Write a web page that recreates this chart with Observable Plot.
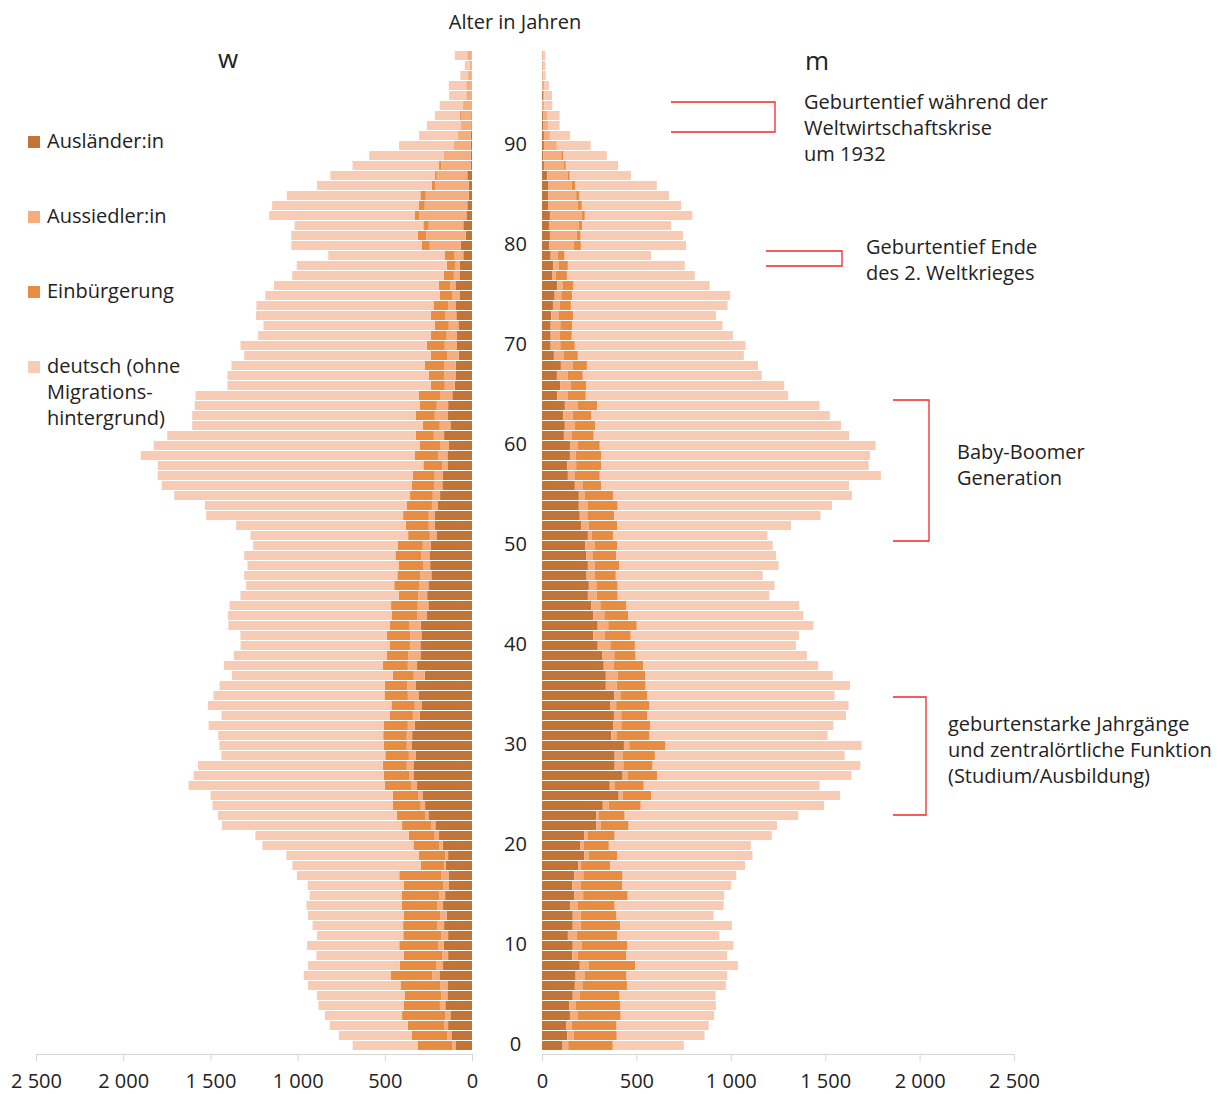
<!DOCTYPE html>
<html>
<head>
<meta charset="utf-8">
<script src="https://cdn.jsdelivr.net/npm/d3@7"></script>
<script src="https://cdn.jsdelivr.net/npm/@observablehq/plot@0.6"></script>
<style>
  html, body { margin: 0; padding: 0; background: #fff; }
  #chart { position: relative; width: 1219px; height: 1094px; font-family: "Open Sans", sans-serif; color: #222; overflow: hidden; }
  .abs { position: absolute; white-space: nowrap; font-size: 20px; line-height: 26px; }
  .sw { display: inline-block; width: 12px; height: 12px; position: absolute; left: -19px; top: 8px; }
  svg { overflow: visible; }
</style>
</head>
<body>
<div id="chart"></div>
<script>
// ---- categories & styling ----
const cats = ["Ausländer:in", "Aussiedler:in", "Einbürgerung", "deutsch (ohne Migrationshintergrund)"];
const catColors = ["#c17435", "#f6ad7e", "#e88c41", "#f8cbb5"];
const ages = d3.range(0, 100);          // Alter 0 … 99
const ageTicks = [0, 10, 20, 30, 40, 50, 60, 70, 80, 90];
const xTicks = [0, 500, 1000, 1500, 2000, 2500];

// ---- Frauen (w), Alter 0 … 99 ----
const wAuslaender = [95,118,137,124,153,141,141,187,166,137, 162,137,160,145,166,154,135,135,151,137,
  168,189,210,250,269,284,315,336,336,324, 347,343,328,299,290,307,324,271,315,296,
  296,290,294,261,250,257,250,233,240,244, 236,204,212,212,198,183,170,166,141,141,
  132,160,124,141,137,113,99,95,93,76, 86,86,78,90,95,69,95,72,71,50,
  65,36,50,32,27,19,19,27,8,8, 8,8,4,4,3,3,3,2,2,2];
const wAussiedler = [19,25,23,31,31,36,42,42,40,34, 32,40,40,38,34,34,31,42,10,17,
  21,25,25,19,25,25,32,25,38,38, 27,31,40,40,38,61,48,63,53,71,
  59,65,67,53,61,50,51,65,38,46, 46,38,36,36,32,42,48,48,29,53,
  48,59,61,72,65,67,57,65,67,65, 70,59,55,65,42,46,31,32,23,50,
  177,227,198,271,244,246,193,175,168,148, 90,70,60,60,48,27,28,20,10,22];
const wEinbuergerung = [196,202,208,246,208,210,227,238,208,219, 223,217,195,208,202,214,225,240,133,151,
  147,149,166,162,160,145,153,145,137,135, 132,135,137,132,134,134,128,120,143,122,
  118,134,111,145,153,113,145,130,141,149, 145,124,132,147,145,130,128,126,109,134,
  120,103,97,109,97,124,80,88,111,95, 103,92,80,82,84,69,65,59,51,57,
  46,48,31,25,34,31,19,11,13,4, 4,4,2,5,2,2,2,2,0,3];
const wDeutsch = [374,418,448,442,488,502,530,498,526,502, 528,494,519,549,547,528,551,587,736,759,
  866,879,1032,1025,1034,1045,1125,1090,1060,940, 942,946,1005,965,1052,980,947,923,912,877,
  854,839,925,940,926,908,849,878,868,867, 828,904,972,1129,1156,1352,1433,1462,1523,1571,
  1525,1425,1322,1282,1291,1281,1166,1154,1108,1070, 1068,989,983,1001,1015,1001,944,868,860,667,
  748,725,738,835,841,766,658,599,496,429, 316,221,193,144,132,99,100,43,30,72];

// ---- Männer (m), Alter 0 … 99 ----
const mAuslaender = [109,134,128,148,144,163,174,178,200,160, 163,137,163,163,148,172,160,172,192,223,
  204,223,288,288,322,406,359,427,385,385, 434,366,376,381,360,383,338,338,327,318,
  295,271,295,272,260,243,248,236,243,234, 229,243,207,200,195,195,174,137,134,148,
  148,116,121,113,121,81,97,79,100,63, 46,46,46,49,58,67,81,53,60,46,
  37,42,37,42,32,32,32,28,10,7, 10,10,8,5,3,5,3,2,2,2];
const mAussiedler = [30,33,30,40,33,37,40,47,46,30, 46,47,42,42,42,46,46,47,14,23,
  16,18,23,11,32,21,25,26,46,42, 28,28,44,39,33,32,58,62,53,65,
  67,60,56,58,49,47,40,44,37,33, 49,21,40,40,46,30,40,35,47,30,
  40,40,54,49,67,54,54,56,62,51, 51,47,51,39,35,35,28,19,28,37,
  130,142,156,167,158,149,125,109,104,95, 65,32,25,25,10,8,8,4,4,4];
const mEinbuergerung = [236,229,237,229,239,211,236,223,248,257, 244,216,209,190,195,236,218,208,156,153,
  134,144,148,139,169,151,155,158,155,171, 192,176,155,139,176,144,153,148,156,113,
  130,139,151,127,139,111,113,111,130,125, 121,113,151,143,160,151,100,134,134,137,
  118,118,107,100,104,97,84,81,76,76, 77,65,62,77,60,58,58,60,49,37,
  39,21,21,18,21,18,18,10,12,12, 3,0,0,0,0,0,0,0,0,0];
const mDeutsch = [376,465,488,495,505,508,524,533,543,534, 561,539,592,514,577,511,578,602,714,716,
  752,832,786,919,971,1001,931,1028,1100,1005, 1039,943,968,1051,1055,990,1082,992,927,907,
  853,891,936,927,914,803,831,778,843,848, 823,817,921,1092,1135,1266,1312,1489,1415,1422,
  1461,1352,1302,1262,1178,1072,1048,948,906,879, 904,853,797,756,830,837,721,677,619,458,
  557,542,470,569,526,474,433,324,277,229, 180,107,60,63,42,40,26,14,12,12];

// ---- tidy tables ----
function tidy(series) {
  const out = [];
  series.forEach((arr, ci) => arr.forEach((v, i) => out.push({age: ages[i], cat: cats[ci], value: v})));
  return out;
}
const dataW = tidy([wAuslaender, wAussiedler, wEinbuergerung, wDeutsch]);
const dataM = tidy([mAuslaender, mAussiedler, mEinbuergerung, mDeutsch]);

const fmt = d => d >= 1000 ? `${Math.floor(d / 1000)} ${String(d % 1000).padStart(3, "0")}` : String(d);
const agesDesc = ages.slice().reverse();
const style = {fontFamily: "'Open Sans', sans-serif", fontSize: "20px", color: "#222", background: "transparent", overflow: "visible"};
const H = 1094, MT = 47, MB = 40;

const left = Plot.plot({
  width: 490, height: H, marginLeft: 36, marginRight: 18, marginTop: MT, marginBottom: MB,
  style,
  x: {domain: [0, 2500], reverse: true, axis: null, label: null},
  y: {domain: agesDesc, padding: 0.1, axis: null},
  color: {domain: cats, range: catColors},
  marks: [
    Plot.barX(dataW, {x: "value", y: "age", fill: "cat", order: cats}),
    Plot.frame({anchor: "bottom", stroke: "#d6d6d6"}),
    Plot.axisX({ticks: xTicks, tickFormat: fmt, tickSize: 7, tickPadding: 12, stroke: "#d6d6d6", fill: "#222", fontSize: 20, label: null})
  ]
});

const right = Plot.plot({
  width: 729, height: H, marginLeft: 52, marginRight: 205, marginTop: MT, marginBottom: MB,
  style,
  x: {domain: [0, 2500], axis: null, label: null},
  y: {domain: agesDesc, padding: 0.1, axis: null},
  color: {domain: cats, range: catColors},
  marks: [
    Plot.barX(dataM, {x: "value", y: "age", fill: "cat", order: cats}),
    Plot.frame({anchor: "bottom", stroke: "#d6d6d6"}),
    Plot.axisX({ticks: xTicks, tickFormat: fmt, tickSize: 7, tickPadding: 12, stroke: "#d6d6d6", fill: "#222", fontSize: 20, label: null}),
    Plot.text(ageTicks, {y: d => d, frameAnchor: "left", dx: -27, dy: -1, text: d => String(d), textAnchor: "middle", fontSize: 20, fill: "#222"})
  ]
});

const chart = document.getElementById("chart");
left.style.position = "absolute"; left.style.left = "0px"; left.style.top = "0px";
right.style.position = "absolute"; right.style.left = "490px"; right.style.top = "0px";
chart.appendChild(left);
chart.appendChild(right);

// ---- texts ----
function addText(lines, x, yCenter, opts = {}) {
  const d = document.createElement("div");
  d.className = "abs";
  d.style.left = x + "px";
  d.style.top = (yCenter - 13) + "px";
  if (opts.size) d.style.fontSize = opts.size + "px";
  if (opts.center) d.style.transform = "translateX(-50%)";
  d.innerHTML = lines.join("<br>");
  chart.appendChild(d);
  return d;
}
addText(["Alter in Jahren"], 515, 22, {center: true});
addText(["w"], 228, 58, {size: 26, center: true});
addText(["m"], 817, 60, {size: 26, center: true});

const legendItems = [
  {lines: ["Ausländer:in"], y: 141},
  {lines: ["Aussiedler:in"], y: 216},
  {lines: ["Einbürgerung"], y: 291},
  {lines: ["deutsch (ohne", "Migrations-", "hintergrund)"], y: 366}
];
legendItems.forEach((it, i) => {
  const d = addText(it.lines, 47, it.y);
  const s = document.createElement("span");
  s.className = "sw";
  s.style.background = catColors[i];
  d.appendChild(s);
});

addText(["Geburtentief während der", "Weltwirtschaftskrise", "um 1932"], 804, 102);
addText(["Geburtentief Ende", "des 2. Weltkrieges"], 866, 247);
addText(["Baby-Boomer", "Generation"], 957, 452);
addText(["geburtenstarke Jahrgänge", "und zentralörtliche Funktion", "(Studium/Ausbildung)"], 948, 724);

// ---- annotation brackets ----
const ns = "http://www.w3.org/2000/svg";
const ov = document.createElementNS(ns, "svg");
ov.setAttribute("width", 1219); ov.setAttribute("height", 1094);
ov.style.position = "absolute"; ov.style.left = "0"; ov.style.top = "0"; ov.style.pointerEvents = "none";
["M671,102H775V132H671", "M766,251H842V266H766", "M893,400H929V541H893", "M893,697H926V815H893"].forEach(p => {
  const path = document.createElementNS(ns, "path");
  path.setAttribute("d", p);
  path.setAttribute("fill", "none");
  path.setAttribute("stroke", "#f0282a");
  path.setAttribute("stroke-width", "1.3");
  ov.appendChild(path);
});
chart.appendChild(ov);
</script>
</body>
</html>
